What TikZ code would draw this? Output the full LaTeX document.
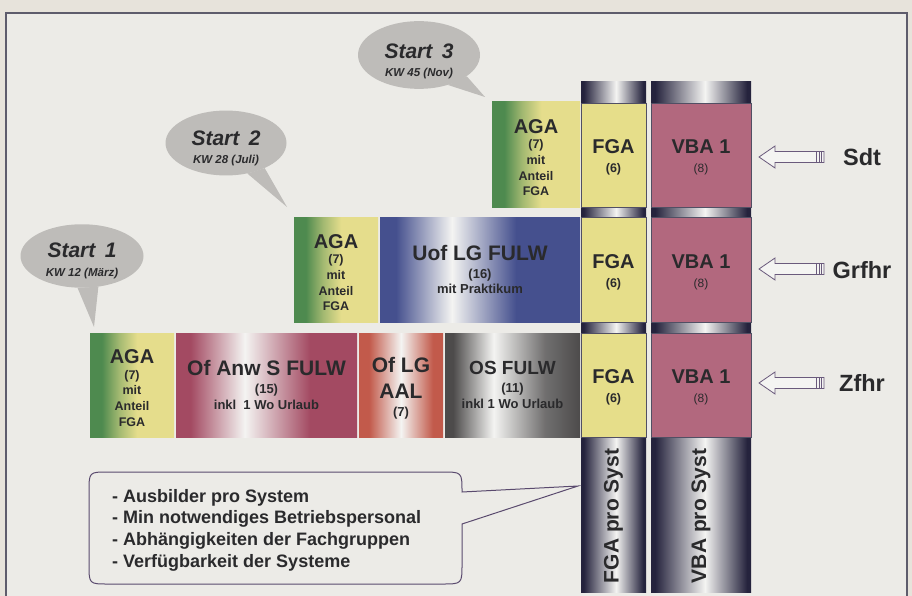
\documentclass[tikz,border=0pt]{standalone}
\usepackage{fontspec}
\setmainfont{Liberation Sans}
\usetikzlibrary{shapes.geometric}
\definecolor{outerbg}{HTML}{E7E3DB}
\definecolor{innerbg}{HTML}{ECEBE7}
\definecolor{frameline}{HTML}{5E5C6C}
\definecolor{bubblegray}{HTML}{BEBCB9}
\definecolor{txt}{HTML}{2A2A2C}
\definecolor{agagreen}{HTML}{4E8A4F}
\definecolor{agayellow}{HTML}{E5DD8C}
\colorlet{agamid}{agagreen!45!agayellow}
\definecolor{uofblue}{HTML}{45508E}
\definecolor{ofanwred}{HTML}{A34A62}
\definecolor{oflgred}{HTML}{C25A4B}
\definecolor{osgray}{HTML}{4D4B4B}
\definecolor{capdark}{HTML}{25233D}
\definecolor{fgayellow}{HTML}{E6DE8A}
\definecolor{vbamauve}{HTML}{B2687E}
\definecolor{arrowline}{HTML}{6A5A7C}
\definecolor{bubline}{HTML}{5A4A6E}
\definecolor{nearwhite}{HTML}{F4F4F2}
\pgfdeclarehorizontalshading{agash}{100bp}{color(0bp)=(agagreen); color(32bp)=(agagreen); color(42bp)=(agamid); color(53bp)=(agayellow); color(100bp)=(agayellow)}
\pgfdeclarehorizontalshading{uofsh}{100bp}{color(0bp)=(uofblue); color(29bp)=(uofblue); color(43bp)=(nearwhite); color(59bp)=(uofblue); color(100bp)=(uofblue)}
\pgfdeclarehorizontalshading{ofanwsh}{100bp}{color(0bp)=(ofanwred); color(29bp)=(ofanwred); color(44bp)=(nearwhite); color(62bp)=(ofanwred); color(100bp)=(ofanwred)}
\pgfdeclarehorizontalshading{oflgsh}{100bp}{color(0bp)=(oflgred); color(31bp)=(oflgred); color(50bp)=(nearwhite); color(69bp)=(oflgred); color(100bp)=(oflgred)}
\pgfdeclarehorizontalshading{ossh}{100bp}{color(0bp)=(osgray); color(28bp)=(osgray); color(43bp)=(nearwhite); color(62bp)=(osgray!80); color(75bp)=(osgray); color(100bp)=(osgray)}
\pgfdeclarehorizontalshading{colsh}{100bp}{color(0bp)=(capdark); color(27bp)=(capdark); color(52bp)=(nearwhite); color(73bp)=(capdark); color(100bp)=(capdark)}
\newcommand{\fsz}[2]{\fontsize{#1}{#2}\selectfont}
\begin{document}
\begin{tikzpicture}[x=1pt,y=-1pt,
  box/.style={inner sep=0pt, outer sep=0pt, align=center, text=txt},
  colbox/.style={box, draw=capdark!80, line width=0.5pt},
  agabox/.style={box, shading=agash, font=\bfseries\fsz{12.5}{15.6}},
  fgabox/.style={colbox, fill=fgayellow, minimum width=65pt, font=\bfseries\fsz{12.5}{19}},
  vbabox/.style={colbox, fill=vbamauve, minimum width=100pt, font=\bfseries\fsz{12}{19}},
  kursbox/.style={box, font=\bfseries\fsz{13}{15.5}},
  bubble/.style={ellipse, fill=bubblegray, inner sep=0pt, align=center, text=txt, font=\bfseries\itshape\fsz{11.5}{18.5}},
  lbl/.style={font=\fsz{23.5}{25}\bfseries, text=txt, inner sep=0pt},
  harrow/.pic={\draw[arrowline, fill=nearwhite, line width=0.8pt, line join=miter] (0,0) -- (16,-11) -- (16,-5.5) -- (65,-5.5) -- (65,5.5) -- (16,5.5) -- (16,11) -- cycle;
     \foreach \xx in {57,60,62.5} \draw[arrowline, line width=0.6pt] (\xx,-5.5) -- (\xx,5.5);}
]
\useasboundingbox (0,0) rectangle (912,596);
\fill[outerbg] (0,0) rectangle (912,596);
\draw[frameline, line width=1.3pt, fill=innerbg] (6,13) rectangle (907,610);

% speech bubbles
\node[bubble, minimum width=122pt, minimum height=64pt] (s3) at (419,55) {{\fsz{21}{22}\rule{0pt}{27pt}Start\hspace{0.45em}3}\\{KW 45 (Nov)}};
\fill[bubblegray] (s3.-24) -- (485,97) -- (s3.-46) -- cycle;
\node[bubble, minimum width=121pt, minimum height=63pt] (s2) at (226,143) {{\fsz{21}{22}\rule{0pt}{25pt}Start\hspace{0.45em}2}\\{KW 28 (Juli)}};
\fill[bubblegray] (s2.-33) -- (287,207) -- (s2.-55) -- cycle;
\node[bubble, minimum width=123pt, minimum height=62pt] (s1) at (82,256) {{\fsz{21}{22}\rule{0pt}{24pt}Start\hspace{0.45em}1}\\{KW 12 (März)}};
\fill[bubblegray] (s1.-62) -- (94,327) -- (s1.-98) -- cycle;

% columns
\node[box, shading=colsh, minimum width=65pt, minimum height=510pt, anchor=north west] (fgacol) at (581,82) {};
\node[box, shading=colsh, minimum width=100pt, minimum height=510pt, anchor=north west] (vbacol) at (651,82) {};
\node[box, rotate=90, font=\fsz{21}{22}\bfseries] (fgap) at (613.5,516) {FGA pro Syst};
\node[box, rotate=90, font=\fsz{21}{22}\bfseries] (vbap) at (701,516) {VBA pro Syst};

% row 1
\node[agabox, minimum width=88pt, minimum height=105pt] (aga3) at (536,154.5) {{\fsz{20}{21}\rule{0pt}{20pt}AGA}\\(7)\\mit\\Anteil\\FGA};
\node[fgabox, minimum height=104pt] (fga1) at (613.5,155) {{\fsz{20}{21}\rule{0pt}{19pt}FGA}\\(6)};
\node[vbabox, minimum height=104pt] (vba1) at (701,155) {{\fsz{20}{21}\rule{0pt}{19pt}VBA 1}\\{\mdseries(8)}};

% row 2
\node[agabox, minimum width=84pt, minimum height=105pt] (aga2) at (336,269.5) {{\fsz{20}{21}\rule{0pt}{20pt}AGA}\\(7)\\mit\\Anteil\\FGA};
\node[kursbox, shading=uofsh, minimum width=200pt, minimum height=105pt] (uof) at (480,269.5) {{\fsz{21}{22}Uof LG FULW}\\[2.5pt](16)\\mit Praktikum};
\node[fgabox, minimum height=105pt] (fga2) at (613.5,269.5) {{\fsz{20}{21}\rule{0pt}{19pt}FGA}\\(6)};
\node[vbabox, minimum height=105pt] (vba2) at (701,269.5) {{\fsz{20}{21}\rule{0pt}{19pt}VBA 1}\\{\mdseries(8)}};

% row 3
\node[agabox, minimum width=84pt, minimum height=104pt] (aga1) at (132,385) {{\fsz{20}{21}\rule{0pt}{20pt}AGA}\\(7)\\mit\\Anteil\\FGA};
\node[kursbox, shading=ofanwsh, minimum width=181pt, minimum height=104pt] (ofanw) at (266.5,385) {{\fsz{21}{22}Of Anw S FULW}\\[2.5pt](15)\\inkl\hspace{0.55em}1 Wo Urlaub};
\node[box, font=\bfseries\fsz{21}{26}, shading=oflgsh, minimum width=84pt, minimum height=104pt] (oflg) at (401,385) {\rule{0pt}{21pt}Of LG\\AAL\\[-8pt]{\fsz{13}{14}(7)}};
\node[kursbox, shading=ossh, minimum width=135pt, minimum height=104pt] (osfulw) at (512.5,385) {{\fsz{19}{20}OS FULW}\\[2.5pt](11)\\inkl 1 Wo Urlaub};
\node[fgabox, minimum height=104pt] (fga3) at (613.5,385) {{\fsz{20}{21}\rule{0pt}{19pt}FGA}\\(6)};
\node[vbabox, minimum height=104pt] (vba3) at (701,385) {{\fsz{20}{21}\rule{0pt}{19pt}VBA 1}\\{\mdseries(8)}};

% labels and arrows
\node[lbl] (sdt) at (862,157) {Sdt};
\node[lbl] (grfhr) at (862,270) {Grfhr};
\node[lbl] (zfhr) at (862,383) {Zfhr};
\pic (a1) at (759,157) {harrow};
\pic (a2) at (759,269) {harrow};
\pic (a3) at (759,383) {harrow};

% bottom callout
\draw[bubline, line width=1pt] (108,472) -- (442,472) .. controls (462,472) .. (462,492) -- (578,486) -- (462,524) -- (462,564) .. controls (462,584) .. (442,584) -- (108,584) .. controls (89,584) .. (89,564) -- (89,492) .. controls (89,472) .. (108,472) -- cycle;
\node[anchor=west, align=left, text=txt, font=\fsz{18}{21.7}\bfseries, inner sep=0pt] (notes) at (112,530) {- Ausbilder pro System\\- Min notwendiges Betriebspersonal\\- Abhängigkeiten der Fachgruppen\\- Verfügbarkeit der Systeme};
\end{tikzpicture}
\end{document}
